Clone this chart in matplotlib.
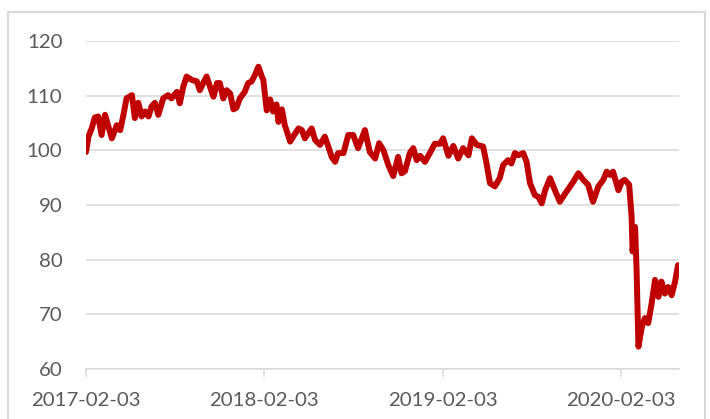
import matplotlib
matplotlib.use("Agg")
import matplotlib.pyplot as plt
from matplotlib.patches import Rectangle
import pandas as pd

# Days since 2017-02-03 and index values
day_offsets = [0, 5, 12, 18, 25, 32, 39, 45, 53, 63, 70, 76, 83, 94, 100, 107, 114, 121, 128, 134,
               141, 148, 158, 168, 175, 186, 192, 199, 206, 216, 227, 233, 240, 247, 254, 261, 268, 274, 281, 288,
               295, 302, 308, 315, 325, 332, 339, 346, 353, 360, 363, 370, 377, 383, 390, 394, 401, 407, 418, 424,
               435, 442, 448, 455, 462, 469, 479, 489, 496, 503, 510, 516, 527, 537, 547, 557, 571, 581, 592, 600,
               609, 619, 629, 639, 646, 653, 663, 670, 677, 684, 694, 704, 714, 725, 731, 742, 752, 762, 772, 783,
               790, 800, 813, 820, 827, 837, 847, 854, 864, 871, 878, 885, 895, 902, 909, 919, 926, 933, 940, 950,
               960, 970, 981, 991, 998, 1008, 1018, 1028, 1038, 1049, 1059, 1066, 1073, 1079, 1090, 1097, 1103, 1112, 1117, 1119,
               1124, 1127, 1131, 1138, 1144, 1151, 1158, 1165, 1172, 1178, 1185, 1192, 1199, 1206, 1212]
values = [99.7, 102.5, 104.1, 106.0, 106.2, 102.8, 106.5, 104.6, 102.2, 104.6, 103.7, 106.2, 109.5, 110.1, 105.9, 108.7, 106.2, 107.1, 106.2, 108.0,
          108.7, 106.5, 109.5, 110.1, 109.5, 110.7, 108.6, 111.6, 113.5, 112.9, 112.6, 111.0, 112.3, 113.5, 111.6, 109.8, 112.3, 112.3, 109.5, 111.0,
          110.4, 107.5, 107.8, 109.5, 110.7, 112.3, 112.6, 113.8, 115.3, 113.5, 112.9, 107.3, 109.3, 107.1, 108.4, 105.2, 107.5, 104.6, 101.6, 102.5,
          104.0, 103.7, 102.2, 103.1, 104.0, 101.9, 101.0, 102.5, 100.7, 98.8, 97.9, 99.5, 99.5, 102.8, 102.8, 100.4, 103.7, 99.7, 98.5, 101.3,
          100.0, 97.3, 95.3, 98.8, 95.8, 96.2, 99.5, 100.4, 98.2, 99.0, 97.9, 99.5, 101.2, 101.2, 102.2, 99.0, 100.8, 98.5, 100.4, 99.1,
          102.2, 101.0, 100.7, 97.6, 94.0, 93.4, 94.9, 97.3, 98.2, 97.6, 99.5, 99.1, 99.5, 97.9, 94.0, 91.8, 91.5, 90.3, 92.7, 94.9,
          92.7, 90.6, 92.1, 93.4, 94.3, 95.8, 94.6, 93.7, 90.6, 93.4, 94.6, 96.1, 95.5, 96.1, 92.7, 94.3, 94.6, 93.7, 87.9, 81.5,
          86.0, 78.7, 64.1, 67.7, 69.3, 68.4, 72.0, 76.3, 73.2, 76.0, 73.8, 75.0, 73.5, 76.0, 79.0]

start_date = "2017-02-03"
tick_dates = ["2017-02-03", "2018-02-03", "2019-02-03", "2020-02-03"]
y_ticks = [60, 70, 80, 90, 100, 110, 120]

plt.rcParams['font.family'] = ['Lato', 'DejaVu Sans']

dates = pd.Timestamp(start_date) + pd.to_timedelta(day_offsets, unit="D")

fig = plt.figure(figsize=(7.10, 4.19), dpi=100)
ax = fig.add_axes([86/710, 50/419, (678.5-86)/710, (369-41)/419])

ax.plot(dates, values, color="#C00000", lw=4.3, solid_joinstyle="round", solid_capstyle="round")

ax.set_ylim(60, 120)
ax.set_yticks(y_ticks)
ax.set_xlim(pd.Timestamp(start_date), pd.Timestamp(start_date) + pd.Timedelta(days=1213))
ax.set_xticks([pd.Timestamp(d) for d in tick_dates])
ax.set_xticklabels(tick_dates)

ax.grid(axis="y", color="#d9d9d9", lw=1.1)
ax.set_axisbelow(True)
for s in ["top", "right", "left"]:
    ax.spines[s].set_visible(False)
ax.spines["bottom"].set_color("#d9d9d9")
ax.spines["bottom"].set_linewidth(1.1)

ax.tick_params(axis="y", length=0, pad=17, labelsize=14.7, labelcolor="#595959")
ax.tick_params(axis="x", length=5.5, width=1.1, color="#d9d9d9", pad=11, labelsize=14.7, labelcolor="#595959")

fig.add_artist(Rectangle((8/710, -0.1), (705-8)/710, (419-12)/419 + 0.1,
                         transform=fig.transFigure, fill=False, ec="#d9d9d9", lw=1.5))

fig.savefig("out.png", dpi=100)
